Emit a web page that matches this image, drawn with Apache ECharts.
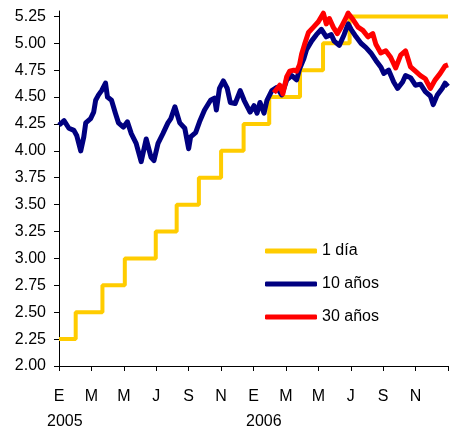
<!DOCTYPE html>
<html>
<head>
<meta charset="utf-8">
<script src="https://cdn.jsdelivr.net/npm/echarts@6/dist/echarts.min.js"></script>
<style>
html,body{margin:0;padding:0;background:#fff;}
#c{width:451px;height:433px;}
</style>
</head>
<body>
<div id="c"></div>
<script>
// x values are months since 1 Jan 2005
const monthLabels = ['E','M','M','J','S','N','E','M','M','J','S','N'];
const yearLabels = ['2005','2006'];
const yTicks = [2.00,2.25,2.50,2.75,3.00,3.25,3.50,3.75,4.00,4.25,4.50,4.75,5.00,5.25];

const rateMonth = [0, 1.03, 2.68, 4.06, 5.97, 7.26, 8.63, 10.0, 11.39, 12.97, 14.87, 16.29, 17.93, 24];
const rateValue = [2.25, 2.50, 2.75, 3.00, 3.25, 3.50, 3.75, 4.00, 4.25, 4.50, 4.75, 5.00, 5.25, 5.25];

const tenMonth = [0.0,0.31,0.61,0.92,1.10,1.34,1.53,1.65,1.95,2.14,2.26,2.44,2.63,2.87,2.99,3.24,3.48,3.67,3.97,4.22,4.46,4.76,5.07,5.38,5.68,5.86,6.11,6.41,6.72,6.90,7.15,7.45,7.76,8.00,8.12,8.43,8.67,8.98,9.35,9.59,9.71,9.90,10.14,10.38,10.57,10.87,11.18,11.42,11.79,12.03,12.22,12.40,12.65,12.83,13.13,13.44,13.74,14.05,14.36,14.66,14.84,15.09,15.27,15.58,15.88,16.19,16.49,16.80,16.98,17.29,17.59,17.84,18.02,18.33,18.63,18.94,19.24,19.55,19.85,20.04,20.34,20.65,20.89,21.20,21.38,21.69,21.99,22.30,22.60,22.91,23.09,23.34,23.64,23.82,24.0];
const tenValue = [4.24,4.28,4.21,4.19,4.14,4.00,4.13,4.26,4.30,4.36,4.47,4.52,4.56,4.63,4.50,4.47,4.35,4.26,4.22,4.27,4.16,4.07,3.90,4.11,3.94,3.91,4.07,4.16,4.26,4.30,4.41,4.26,4.21,4.02,4.13,4.17,4.27,4.38,4.47,4.49,4.38,4.58,4.65,4.58,4.45,4.44,4.56,4.47,4.36,4.42,4.35,4.45,4.35,4.47,4.56,4.59,4.52,4.66,4.70,4.66,4.76,4.85,4.94,5.02,5.08,5.13,5.06,5.08,5.02,4.98,5.08,5.18,5.13,5.06,5.00,4.96,4.91,4.84,4.78,4.72,4.75,4.64,4.58,4.64,4.70,4.68,4.61,4.62,4.55,4.51,4.43,4.52,4.58,4.63,4.60];

const thirtyMonth = [13.26,13.62,13.81,14.05,14.23,14.48,14.66,14.84,14.97,15.15,15.39,15.70,16.00,16.31,16.49,16.68,16.92,17.17,17.41,17.72,17.84,18.14,18.45,18.75,19.06,19.36,19.55,19.85,20.16,20.46,20.77,21.08,21.38,21.69,21.99,22.30,22.60,22.91,23.21,23.52,23.82,24.0];
const thirtyValue = [4.54,4.61,4.53,4.69,4.74,4.75,4.74,4.80,4.90,4.99,5.10,5.15,5.20,5.28,5.18,5.23,5.15,5.09,5.15,5.24,5.28,5.22,5.15,5.12,5.06,5.09,4.99,4.91,4.93,4.87,4.77,4.89,4.93,4.78,4.74,4.70,4.67,4.58,4.66,4.72,4.79,4.80];

const zip = (a, b) => a.map((x, i) => [x, b[i]]);

const chart = echarts.init(document.getElementById('c'), null, {renderer: 'canvas'});
const font = 'Liberation Sans, Arial, sans-serif';
chart.setOption({
  animation: false,
  backgroundColor: '#fff',
  grid: {left: 59, top: 11, width: 394, height: 355, containLabel: false},
  xAxis: {
    type: 'value', min: 0, max: 24, interval: 2,
    splitLine: {show: false},
    axisLine: {lineStyle: {color: '#000', width: 1}},
    axisTick: {show: true, length: 5, lineStyle: {color: '#000'}},
    axisLabel: {
      margin: 23, color: '#000', fontFamily: font, fontSize: 16,
      formatter: v => { const i = Math.round(v / 2); return i < monthLabels.length ? monthLabels[i] : ''; }
    }
  },
  yAxis: {
    type: 'value', min: 2, max: 5.3,
    splitLine: {show: false},
    axisLine: {show: true, lineStyle: {color: '#000', width: 1}},
    axisTick: {show: true, length: 5, lineStyle: {color: '#000'}, customValues: yTicks},
    axisLabel: {
      margin: 13, color: '#000', fontFamily: font, fontSize: 16,
      customValues: yTicks,
      formatter: v => v.toFixed(2)
    }
  },
  legend: {
    orient: 'vertical', left: 260, top: 237,
    itemWidth: 52, itemHeight: 5, itemGap: 15,
    icon: 'roundRect',
    textStyle: {color: '#000', fontFamily: font, fontSize: 16, lineHeight: 18},
    data: ['1 día', '10 años', '30 años']
  },
  graphic: [
    {type: 'text', left: 47, top: 414, style: {text: yearLabels[0], fill: '#000', font: '16px ' + font}},
    {type: 'text', left: 246, top: 414, style: {text: yearLabels[1], fill: '#000', font: '16px ' + font}}
  ],
  series: [
    {name: '1 día', type: 'line', step: 'end', showSymbol: false, data: zip(rateMonth, rateValue),
     lineStyle: {color: '#FFCC00', width: 4}, itemStyle: {color: '#FFCC00'}},
    {name: '10 años', type: 'line', showSymbol: false, data: zip(tenMonth, tenValue),
     lineStyle: {color: '#000080', width: 5, join: 'round'}, itemStyle: {color: '#000080'}},
    {name: '30 años', type: 'line', showSymbol: false, data: zip(thirtyMonth, thirtyValue),
     lineStyle: {color: '#FF0000', width: 5, join: 'round'}, itemStyle: {color: '#FF0000'}}
  ]
});
</script>
</body>
</html>
